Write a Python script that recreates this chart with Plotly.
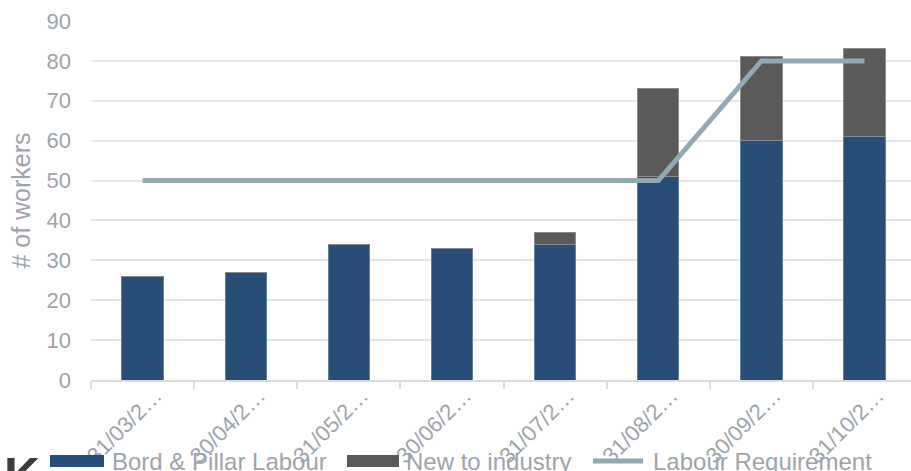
import plotly.graph_objects as go

# Month-end reporting dates (shown truncated on the axis)
dates = ["31/03/2…", "30/04/2…", "31/05/2…", "30/06/2…",
         "31/07/2…", "31/08/2…", "30/09/2…", "31/10/2…"]
bord_pillar = [26, 27, 34, 33, 34, 51, 60, 61]
new_to_industry = [0, 0, 0, 0, 3, 22, 21, 22]
labour_requirement = [50, 50, 50, 50, 50, 50, 80, 80]

legend_names = ["Bord & Pillar Labour", "New to industry", "Labour Requirement"]

BLUE = "#284E77"
GREY = "#595A59"
LINE = "#92A8B3"
TEXT = "#9EA4AA"
FONT = "Liberation Sans, Arial, sans-serif"

fig = go.Figure()
fig.add_trace(go.Bar(
    x=dates, y=bord_pillar, name=legend_names[0], width=0.4,
    marker=dict(color=BLUE, line=dict(color="#5F7FA3", width=1)),
))
fig.add_trace(go.Bar(
    x=dates, y=new_to_industry, name=legend_names[1], width=0.4,
    marker=dict(color=GREY, line=dict(color="#8C8C8C", width=1)),
))
fig.add_trace(go.Scatter(
    x=dates, y=labour_requirement, name=legend_names[2], mode="lines",
    line=dict(color=LINE, width=5),
))

fig.update_layout(
    width=911, height=471,
    margin=dict(l=91, r=0, t=21, b=91),
    barmode="stack",
    showlegend=False,
    plot_bgcolor="white", paper_bgcolor="white",
    font=dict(family=FONT, color=TEXT, size=22),
)
fig.update_xaxes(
    type="category", range=[-0.5, 7.45],
    tickangle=-45, tickson="boundaries",
    ticks="outside", ticklen=7, tickwidth=2, tickcolor="#DCDCDC",
    showline=True, linecolor="#DCDCDC", linewidth=2,
    showgrid=False, ticklabelshift=13, ticklabelstandoff=-8,
    tickfont=dict(size=22, color=TEXT),
)
fig.update_yaxes(
    range=[0, 90], dtick=10,
    showgrid=True, gridcolor="#E6E6E6", gridwidth=2,
    zeroline=False, showline=False, ticks="",
    ticklabelstandoff=19,
    tickfont=dict(size=22, color=TEXT),
    title=dict(text="# of workers", font=dict(size=25, color=TEXT), standoff=8),
)

# Legend row along the bottom edge
legend_y = 461
swatches = [
    dict(kind="rect", x0=50, x1=104, color=BLUE, label_x=110),
    dict(kind="rect", x0=347, x1=399, color=GREY, label_x=404),
    dict(kind="line", x0=593, x1=643, color=LINE, label_x=651),
]
for sw, name in zip(swatches, legend_names):
    if sw["kind"] == "rect":
        fig.add_shape(type="rect", xref="paper", yref="paper",
                      x0=(sw["x0"] - 91) / 820, x1=(sw["x1"] - 91) / 820,
                      y0=-(legend_y + 6 - 380) / 359, y1=-(legend_y - 6 - 380) / 359,
                      fillcolor=sw["color"], line=dict(width=0), layer="above")
    else:
        fig.add_shape(type="line", xref="paper", yref="paper",
                      x0=(sw["x0"] - 91) / 820, x1=(sw["x1"] - 91) / 820,
                      y0=-(legend_y - 380) / 359, y1=-(legend_y - 380) / 359,
                      line=dict(color=sw["color"], width=5), layer="above")
    fig.add_annotation(text=name, xref="paper", yref="paper",
                       x=(sw["label_x"] - 91) / 820, y=-(legend_y - 380) / 359,
                       xanchor="left", yanchor="middle", showarrow=False,
                       font=dict(size=24, color=TEXT, family=FONT))

# Cropped logo fragment in the bottom-left corner
fig.add_annotation(text="<b>K</b>", xref="paper", yref="paper",
                   x=(2 - 91) / 820, y=-(476 - 380) / 359,
                   xanchor="left", yanchor="middle", showarrow=False,
                   font=dict(size=50, color="#3C3C3C", family=FONT))

fig.write_html("out.html")
